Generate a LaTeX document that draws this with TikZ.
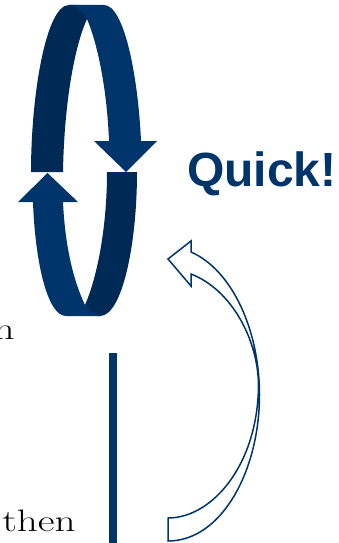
\documentclass[tikz,border=0pt]{standalone}
\usepackage{fontspec}
\setsansfont{Liberation Sans}
\definecolor{lightblue}{HTML}{00356B}
\definecolor{darkblue}{HTML}{002A56}
\tikzset{
  lightpart/.style={fill=lightblue,draw=none},
  darkpart/.style={fill=darkblue,draw=none},
  outlinearrow/.style={draw=lightblue,line width=1.5pt,line join=miter,fill=white},
  bodytext/.style={font=\fontsize{31}{31}\selectfont,text=black,inner sep=0pt,xscale=1.33}
}
\begin{document}
\begin{tikzpicture}[x=1pt,y=-1pt]
\useasboundingbox (0,0) rectangle (339,543);
\clip (0,0) rectangle (339,543);
% upper pair
\path[darkpart] (31,172) .. controls (31,95) and (46,5) .. (69,5) -- (78,5)
  .. controls (82,9) and (85,14) .. (87,19) .. controls (73,50) and (64,110) .. (63,172) -- cycle;
\path[lightpart] (69,5) -- (104,5) .. controls (124,5) and (138,75) .. (141,141) -- (157,141) -- (126,172) -- (94,141) -- (109,141)
  .. controls (107,90) and (98,45) .. (87,19) .. controls (83,12) and (76,6) .. (69,5) -- cycle;
% lower pair
\path[darkpart] (107,172) -- (137,172) .. controls (137,245) and (122,316) .. (100,316) -- (97,316)
  .. controls (92,313) and (88,309) .. (85,305) .. controls (98,275) and (107,225) .. (107,172) -- cycle;
\path[lightpart] (47.5,173) -- (78,202) -- (63,202) .. controls (65,245) and (73,280) .. (85,305)
  .. controls (88,309) and (92,313) .. (100,316) -- (66,316) .. controls (47,316) and (35,260) .. (33,202) -- (18,202) -- cycle;
% bar
\path[lightpart] (109,353) rectangle (117,543);
% outline arrow
\draw[outlinearrow] (168,259) -- (191,241) -- (191,252)
  .. controls (232,270) and (259.5,330) .. (259.5,395)
  .. controls (259.5,470) and (222,541) .. (168,541) -- (168,518)
  .. controls (212,518) and (258,465) .. (258.5,385)
  .. controls (258,340) and (232,290) .. (191,274) -- (191,286) -- cycle;
% text
\node[font=\sffamily\bfseries\fontsize{48}{48}\selectfont,text=lightblue,inner sep=0pt,anchor=base west] (quick) at (187,186) {Quick!};
\node[bodytext,anchor=base east] (frag) at (15,339) {n};
\node[bodytext,anchor=base west] (then) at (2,531) {then};
\end{tikzpicture}
\end{document}
